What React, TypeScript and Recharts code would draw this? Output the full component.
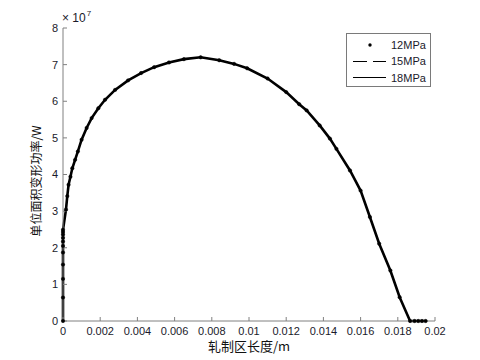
import React from "react";
import { LineChart, Line, XAxis, YAxis } from "recharts";

// rolling zone length (m)
const lengthM = [
  0, 0, 0, 0, 0, 0, 0, 0, 0, 0, 0,
  0.00016, 0.00023, 0.0003, 0.0004, 0.0005, 0.00065, 0.0008, 0.001, 0.00127, 0.00154,
  0.0019, 0.00226, 0.0028, 0.0035, 0.0042, 0.0049, 0.0057, 0.0065, 0.0074, 0.0084,
  0.0092, 0.0099, 0.011, 0.012, 0.0127, 0.0131, 0.0138, 0.01435, 0.0147, 0.01543,
  0.016, 0.0165, 0.017, 0.0176, 0.0181, 0.01866, 0.0189, 0.0191, 0.0193, 0.0195,
];

// deformation power per unit area (x 1e7 W)
const power12 = [
  0, 0.64, 1.15, 1.54, 1.87, 2.05, 2.17, 2.27, 2.36, 2.43, 2.49,
  3.04, 3.41, 3.72, 3.94, 4.17, 4.4, 4.63, 4.95, 5.27, 5.54,
  5.81, 6.04, 6.31, 6.57, 6.77, 6.93, 7.06, 7.15, 7.2, 7.12,
  7.02, 6.9, 6.62, 6.25, 5.92, 5.75, 5.34, 4.98, 4.7, 4.11,
  3.56, 2.84, 2.11, 1.38, 0.65, 0, 0, 0, 0, 0,
];
const power15 = power12;
const power18 = power12;

const xTicks = [0, 0.002, 0.004, 0.006, 0.008, 0.01, 0.012, 0.014, 0.016, 0.018, 0.02];
const yTicks = [0, 1, 2, 3, 4, 5, 6, 7, 8];

const data = lengthM.map((x, i) => ({
  x,
  p12: power12[i] * 1e7,
  p15: power15[i] * 1e7,
  p18: power18[i] * 1e7,
}));

const font = "'Liberation Sans', Arial, sans-serif";
const cjk = "'Noto Sans CJK SC', 'Liberation Sans', sans-serif";
const axisColor = "#808080";
const tickStyle = { fontSize: 11, fill: "#1a1a2a", fontFamily: font };

export default function App() {
  return (
    <div
      style={{
        position: "absolute",
        left: 0,
        top: 0,
        width: 480,
        height: 360,
        background: "#fff",
      }}
    >
      <LineChart
        width={480}
        height={360}
        data={data}
        margin={{ top: 28, right: 45, bottom: 19, left: 33 }}
      >
        <XAxis
          dataKey="x"
          type="number"
          domain={[0, 0.02]}
          ticks={xTicks}
          tickFormatter={(v: number) => String(+v.toFixed(4))}
          stroke={axisColor}
          tickSize={-4}
          tickMargin={10}
          height={20}
          tick={tickStyle}
          interval={0}
        />
        <YAxis
          type="number"
          domain={[0, 8e7]}
          ticks={yTicks.map((t) => t * 1e7)}
          tickFormatter={(v: number) => String(Math.round(v / 1e7))}
          stroke={axisColor}
          tickSize={-4}
          tickMargin={9}
          width={30}
          tick={tickStyle}
          interval={0}
        />
        <Line
          dataKey="p18"
          type="linear"
          stroke="#000"
          strokeWidth={2.6}
          dot={false}
          isAnimationActive={false}
        />
        <Line
          dataKey="p15"
          type="linear"
          stroke="#000"
          strokeWidth={1}
          strokeDasharray="6 3"
          dot={false}
          isAnimationActive={false}
        />
        <Line
          dataKey="p12"
          type="linear"
          stroke="none"
          dot={{ r: 1.7, fill: "#000", stroke: "#000", strokeWidth: 0.5 }}
          isAnimationActive={false}
        />
      </LineChart>

      {/* exponent */}
      <div
        style={{
          position: "absolute",
          left: 62,
          top: 10,
          fontFamily: font,
          fontSize: 12,
          color: "#1a1a2a",
          whiteSpace: "nowrap",
        }}
      >
        × 10<sup style={{ fontSize: 8, position: "relative", top: -1, marginLeft: 1 }}>7</sup>
      </div>

      {/* axis titles */}
      <div
        style={{
          position: "absolute",
          left: 249,
          top: 345,
          transform: "translate(-50%, -50%)",
          fontFamily: cjk,
          fontSize: 13,
          color: "#111",
          whiteSpace: "nowrap",
        }}
      >
        轧制区长度/m
      </div>
      <div
        style={{
          position: "absolute",
          left: 35,
          top: 181,
          transform: "translate(-50%, -50%) rotate(-90deg)",
          fontFamily: cjk,
          fontSize: 12,
          color: "#111",
          whiteSpace: "nowrap",
        }}
      >
        单位面积变形功率/W
      </div>

      {/* legend */}
      <div
        style={{
          position: "absolute",
          left: 346,
          top: 33,
          width: 83,
          height: 52,
          border: "1px solid #7a7a7a",
          background: "#fff",
        }}
      >
        <svg width={83} height={52} style={{ position: "absolute", left: 0, top: 0 }}>
          <circle cx={23} cy={11} r={1.7} fill="#000" />
          <line x1={6} x2={20} y1={27.5} y2={27.5} stroke="#000" strokeWidth={1} />
          <line x1={26} x2={39} y1={27.5} y2={27.5} stroke="#000" strokeWidth={1} />
          <line x1={6} x2={39} y1={43.5} y2={43.5} stroke="#000" strokeWidth={1} />
          {["12MPa", "15MPa", "18MPa"].map((s, i) => (
            <text
              key={s}
              x={44}
              y={11 + i * 16.3}
              dominantBaseline="central"
              fontFamily={font}
              fontSize={11}
              fill="#1a1a2a"
            >
              {s}
            </text>
          ))}
        </svg>
      </div>
    </div>
  );
}
